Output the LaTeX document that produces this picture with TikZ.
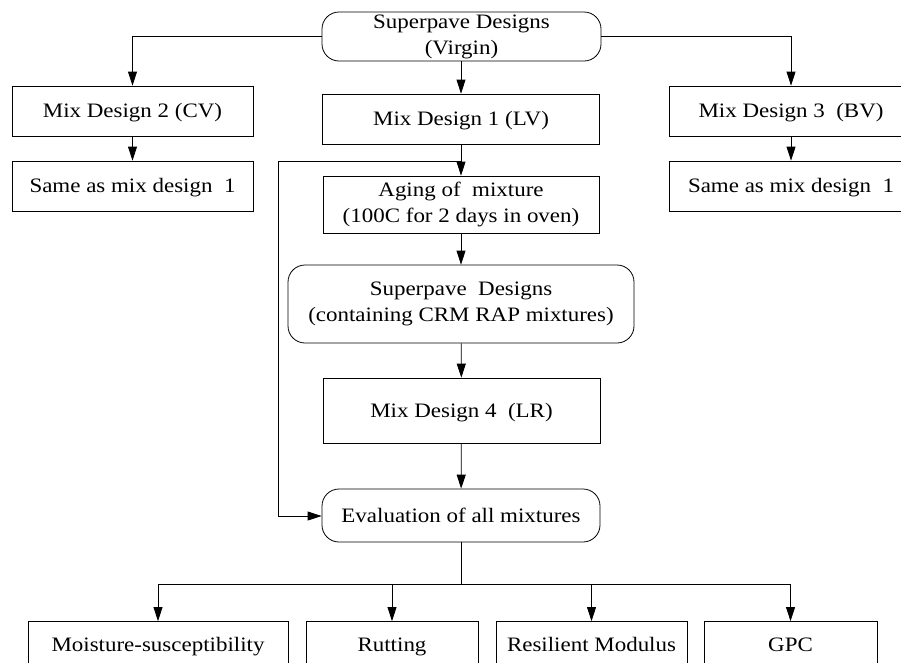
\documentclass[tikz,border=0pt]{standalone}
\usepackage{fontspec}
\setmainfont{Liberation Serif}[FakeStretch=1.12]
\usetikzlibrary{arrows.meta}
\tikzset{
  box/.style={draw=black, line width=0.8pt, inner sep=0pt, align=center,
    font=\fontsize{20.5}{26}\selectfont},
  one/.style={text height=17pt, text depth=4pt},
  rbox/.style={box, rounded corners=17pt},
  conn/.style={line width=0.8pt, -{Triangle[length=14pt,width=9pt]}},
  plain/.style={line width=0.8pt}
}
\begin{document}
\begin{tikzpicture}[x=1pt,y=-1pt]
\useasboundingbox (0,0) rectangle (901,662);
\begin{scope}
\clip (0,0) rectangle (901,662);
\node[rbox, minimum width=279pt, minimum height=49pt] (top) at (461.5,36.5) {Superpave Designs\\(Virgin)};
\node[box, one, minimum width=241pt, minimum height=50pt] (md2) at (132.5,111) {Mix Design 2 (CV)};
\node[box, one, minimum width=241pt, minimum height=50pt] (same2) at (132.5,186) {Same as mix design~~1};
\node[box, one, minimum width=277pt, minimum height=50pt] (md1) at (461,119) {Mix Design 1 (LV)};
\node[box, one, minimum width=244pt, minimum height=50pt] (md3) at (791,111) {Mix Design 3~~(BV)};
\node[box, one, minimum width=244pt, minimum height=50pt] (same3) at (791,186) {Same as mix design~~1};
\node[box, minimum width=276pt, minimum height=57pt] (aging) at (461,204.5) {Aging of~~mixture\\(100C for 2 days in oven)};
\node[rbox, minimum width=346pt, minimum height=78pt] (crm) at (461,304) {Superpave~~Designs\\(containing CRM RAP mixtures)};
\node[box, one, minimum width=277pt, minimum height=65pt] (md4) at (461.5,410.5) {Mix Design 4~~(LR)};
\node[rbox, one, minimum width=278pt, minimum height=53pt] (eval) at (461,515.5) {Evaluation of all mixtures};
\node[box, one, minimum width=260pt, minimum height=46pt] (moist) at (158,644.5) {Moisture-susceptibility};
\node[box, one, minimum width=172pt, minimum height=46pt] (rut) at (392,644.5) {Rutting};
\node[box, one, minimum width=191pt, minimum height=46pt] (res) at (591.5,644.5) {Resilient Modulus};
\node[box, one, minimum width=173pt, minimum height=46pt] (gpc) at (790.5,644.5) {GPC};

\draw[conn] (top.west) -| (md2.north);
\draw[conn] (top.east) -| (md3.north);
\draw[conn] (md2) -- (same2);
\draw[conn] (md3) -- (same3);
\draw[conn] (top.south -| md1.north) -- (md1.north);
\draw[conn] (md1) -- (aging);
\coordinate (j1) at (461,161);
\coordinate (f1) at (278,161);
\coordinate (f2) at (278,516);
\draw[conn] (j1) -- (f1) -- (f2) -- (eval.west |- f2);
\draw[conn] (aging) -- (crm);
\draw[conn] (crm) -- (md4);
\draw[conn] (md4) -- (eval);
\coordinate (j2) at (461,584);
\coordinate (bl) at (158,584);
\coordinate (br) at (790.5,584);
\draw[plain] (eval.south) -- (j2);
\draw[plain] (bl) -- (br);
\draw[conn] (bl) -- (moist.north);
\draw[conn] (rut.north |- bl) -- (rut.north);
\draw[conn] (res.north |- bl) -- (res.north);
\draw[conn] (br) -- (gpc.north);
\end{scope}
\end{tikzpicture}
\end{document}
